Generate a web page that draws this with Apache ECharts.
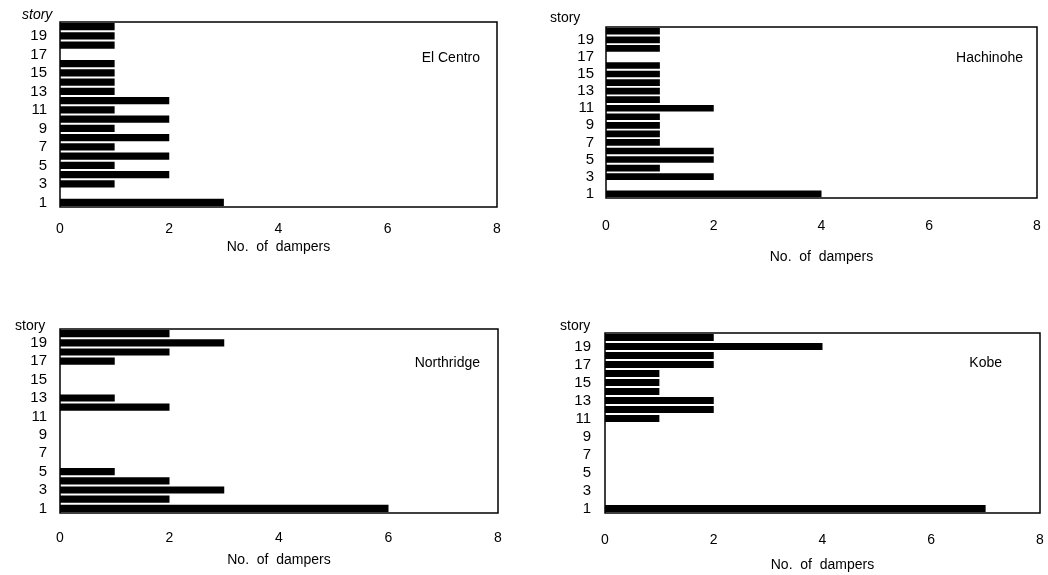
<!DOCTYPE html>
<html>
<head>
<meta charset="utf-8">
<script src="https://cdn.jsdelivr.net/npm/echarts@6/dist/echarts.min.js"></script>
<style>
  html, body { margin: 0; padding: 0; background: #fff; }
  #chart { width: 1048px; height: 575px; }
</style>
</head>
<body>
<div id="chart"></div>
<script>
// stories 1..20, bottom to top
const stories = ['1','2','3','4','5','6','7','8','9','10','11','12','13','14','15','16','17','18','19','20']
const xTicks = [0, 2, 4, 6, 8]

const elCentro   = [3, 0, 1, 2, 1, 2, 1, 2, 1, 2, 1, 2, 1, 1, 1, 1, 0, 1, 1, 1]
const hachinohe  = [4, 0, 2, 1, 2, 2, 1, 1, 1, 1, 2, 1, 1, 1, 1, 1, 0, 1, 1, 1]
const northridge = [6, 2, 3, 2, 1, 0, 0, 0, 0, 0, 0, 2, 1, 0, 0, 0, 1, 2, 3, 2]
const kobe       = [7, 0, 0, 0, 0, 0, 0, 0, 0, 0, 1, 2, 2, 1, 1, 1, 2, 2, 4, 2]

const panels = [
  { name: 'El Centro',  data: elCentro,   grid: { left: 60,  top: 22,  width: 437, height: 185 }, xMargin: 15, nameGap: 33, yMargin: 13, italic: true,
    storyPos: { left: 17, top: 3 },   namePos: { right: 563, top: 46 } },
  { name: 'Hachinohe',  data: hachinohe,  grid: { left: 606, top: 27,  width: 431, height: 171 }, xMargin: 21, nameGap: 52, yMargin: 12, italic: false,
    storyPos: { left: 545, top: 6 },  namePos: { right: 20, top: 46 } },
  { name: 'Northridge', data: northridge, grid: { left: 60,  top: 329, width: 438, height: 184 }, xMargin: 18, nameGap: 40, yMargin: 13, italic: false,
    storyPos: { left: 10, top: 314 }, namePos: { right: 563, top: 351 } },
  { name: 'Kobe',       data: kobe,       grid: { left: 605, top: 333, width: 435, height: 180 }, xMargin: 20, nameGap: 45, yMargin: 14, italic: false,
    storyPos: { left: 555, top: 314 }, namePos: { right: 41, top: 351 } }
]

const font = 'Liberation Sans, Arial, sans-serif'
const chart = echarts.init(document.getElementById('chart'))

const option = {
  backgroundColor: '#fff',
  animation: false,
  textStyle: { fontFamily: font },
  title: [],
  grid: [],
  xAxis: [],
  yAxis: [],
  series: []
}

panels.forEach((p, i) => {
  option.grid.push({
    ...p.grid,
    show: true,
    borderColor: '#000',
    borderWidth: 1.5,
    backgroundColor: 'transparent'
  })
  option.xAxis.push({
    type: 'value',
    gridIndex: i,
    min: xTicks[0],
    max: xTicks[xTicks.length - 1],
    interval: 2,
    name: 'No.  of  dampers',
    nameLocation: 'middle',
    nameGap: p.nameGap,
    nameTextStyle: { color: '#000', fontSize: 14, fontFamily: font },
    axisLine: { show: false },
    axisTick: { show: false },
    splitLine: { show: false },
    axisLabel: { color: '#000', fontSize: 14, fontFamily: font, margin: p.xMargin }
  })
  option.yAxis.push({
    type: 'category',
    gridIndex: i,
    data: stories,
    axisLine: { show: false },
    axisTick: { show: false },
    splitLine: { show: false },
    axisLabel: { color: '#000', fontSize: 15, fontFamily: font, interval: 1, margin: p.yMargin }
  })
  option.series.push({
    type: 'bar',
    name: p.name,
    xAxisIndex: i,
    yAxisIndex: i,
    data: p.data,
    barCategoryGap: '22%',
    itemStyle: { color: '#000' }
  })
  option.title.push({
    text: 'story',
    ...p.storyPos,
    textStyle: { color: '#000', fontSize: 14, fontWeight: 'normal', fontStyle: p.italic ? 'italic' : 'normal', fontFamily: font }
  })
  option.title.push({
    text: p.name,
    ...p.namePos,
    textStyle: { color: '#000', fontSize: 14, fontWeight: 'normal', fontFamily: font }
  })
})

chart.setOption(option)
</script>
</body>
</html>
